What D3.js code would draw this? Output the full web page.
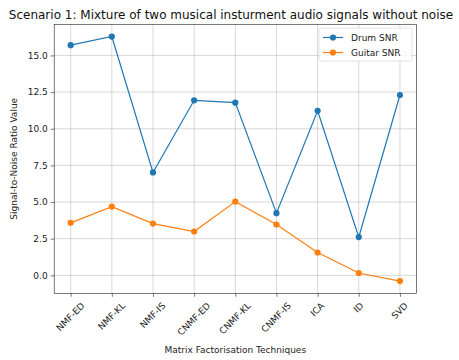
<!DOCTYPE html>
<html>
<head>
<meta charset="utf-8">
<script src="https://cdn.jsdelivr.net/npm/d3@7"></script>
<style>
  html, body { margin: 0; padding: 0; background: #fff; }
  svg { display: block; font-family: "DejaVu Sans", sans-serif; }
</style>
</head>
<body>
<svg id="chart" width="459" height="360"></svg>
<script>
// Techniques compared
const categories = ["NMF-ED", "NMF-KL", "NMF-IS", "CNMF-ED", "CNMF-KL", "CNMF-IS", "ICA", "ID", "SVD"];
// SNR per technique
const drumSNR   = [15.70, 16.29, 7.02, 11.94, 11.78, 4.24, 11.22, 2.61, 12.30];
const guitarSNR = [3.58, 4.69, 3.53, 2.99, 5.03, 3.47, 1.56, 0.16, -0.39];
// Y axis ticks
const yTicks = [0, 2.5, 5, 7.5, 10, 12.5, 15];

const series = [
  { name: "Drum SNR", values: drumSNR, color: "#1f77b4" },
  { name: "Guitar SNR", values: guitarSNR, color: "#ff7f0e" }
];

const svg = d3.select("#chart");
const plot = { left: 54.2, right: 416.4, top: 24.3, bottom: 293.3 };

// Linear x over category index with 5% margins
const n = categories.length;
const pad = (n - 1) * 0.05;
const x = d3.scaleLinear().domain([-pad, n - 1 + pad]).range([plot.left, plot.right]);

const allVals = drumSNR.concat(guitarSNR);
const yMin = d3.min(allVals), yMax = d3.max(allVals);
const yPad = (yMax - yMin) * 0.05;
const y = d3.scaleLinear().domain([yMin - yPad, yMax + yPad]).range([plot.bottom, plot.top]);

// Grid
const grid = svg.append("g");
grid.selectAll("line.gx").data(categories).join("line")
  .attr("x1", (d, i) => x(i)).attr("x2", (d, i) => x(i))
  .attr("y1", plot.top).attr("y2", plot.bottom)
  .attr("stroke", "#b0b0b0").attr("stroke-opacity", 0.65).attr("stroke-width", 0.75);
grid.selectAll("line.gy").data(yTicks).join("line")
  .attr("x1", plot.left).attr("x2", plot.right)
  .attr("y1", d => y(d)).attr("y2", d => y(d))
  .attr("stroke", "#b0b0b0").attr("stroke-opacity", 0.65).attr("stroke-width", 0.75);

// Y axis
const yAxis = d3.axisLeft(y).tickValues(yTicks).tickFormat(d3.format(".1f")).tickSizeOuter(0).tickSize(3.5).tickPadding(3);
const gy = svg.append("g").attr("transform", `translate(${plot.left},0)`).call(yAxis);
gy.select(".domain").remove();
gy.selectAll("text").attr("font-size", 9).attr("fill", "#222").attr("font-family", "DejaVu Sans");
gy.selectAll("line").attr("stroke", "#222").attr("stroke-width", 0.6);

// X axis
const xAxis = d3.axisBottom(x).tickValues(d3.range(n)).tickFormat(i => categories[i]).tickSizeOuter(0).tickSize(3.5).tickPadding(3);
const gx = svg.append("g").attr("transform", `translate(0,${plot.bottom})`).call(xAxis);
gx.select(".domain").remove();
gx.selectAll("line").attr("stroke", "#222").attr("stroke-width", 0.6);
gx.selectAll("text")
  .attr("font-size", 9).attr("fill", "#222").attr("font-family", "DejaVu Sans")
  .attr("text-anchor", "middle").attr("dy", null)
  .each(function() {
    const t = d3.select(this);
    const w = this.getComputedTextLength();
    const h = 9 * 1.0;
    const s = Math.SQRT1_2;
    const bboxH = (w + h) * s;
    const cy = 3.5 + 3.5 + bboxH / 2;
    t.attr("y", 0).attr("x", -1)
     .attr("transform", `translate(0,${cy}) rotate(-45)`)
     .attr("dominant-baseline", "central");
  });

// Frame
svg.append("rect")
  .attr("x", plot.left).attr("y", plot.top)
  .attr("width", plot.right - plot.left).attr("height", plot.bottom - plot.top)
  .attr("fill", "none").attr("stroke", "#222").attr("stroke-width", 0.6);

// Lines and markers
const line = d3.line().x((d, i) => x(i)).y(d => y(d));
series.forEach(s => {
  svg.append("path").datum(s.values)
    .attr("d", line).attr("fill", "none")
    .attr("stroke", s.color).attr("stroke-width", 1.2);
  svg.append("g").selectAll("circle").data(s.values).join("circle")
    .attr("cx", (d, i) => x(i)).attr("cy", d => y(d)).attr("r", 3.1)
    .attr("fill", s.color);
});

// Legend
const lg = svg.append("g");
lg.append("rect")
  .attr("x", 319).attr("y", 28).attr("width", 93).attr("height", 33).attr("rx", 2)
  .attr("fill", "#fff").attr("fill-opacity", 0.8).attr("stroke", "#d0d0d0").attr("stroke-width", 0.6);
series.forEach((s, i) => {
  const ly = 37.5 + i * 15;
  lg.append("line").attr("x1", 323).attr("x2", 343).attr("y1", ly).attr("y2", ly)
    .attr("stroke", s.color).attr("stroke-width", 1.2);
  lg.append("circle").attr("cx", 333).attr("cy", ly).attr("r", 3.1).attr("fill", s.color);
  lg.append("text").attr("x", 351).attr("y", ly).attr("dominant-baseline", "central")
    .attr("font-size", 9).attr("fill", "#222").text(s.name);
});

// Title and axis labels
svg.append("text").attr("x", 231).attr("y", 19).attr("text-anchor", "middle")
  .attr("font-size", 12).attr("fill", "#111")
  .text("Scenario 1: Mixture of two musical insturment audio signals without noise");
svg.append("text").attr("x", (plot.left + plot.right) / 2).attr("y", 353).attr("text-anchor", "middle")
  .attr("font-size", 9).attr("fill", "#222").text("Matrix Factorisation Techniques");
svg.append("text").attr("transform", `translate(17,${(plot.top + plot.bottom) / 2}) rotate(-90)`)
  .attr("text-anchor", "middle").attr("font-size", 9).attr("fill", "#222")
  .text("Signal-to-Noise Ratio Value");
</script>
</body>
</html>
